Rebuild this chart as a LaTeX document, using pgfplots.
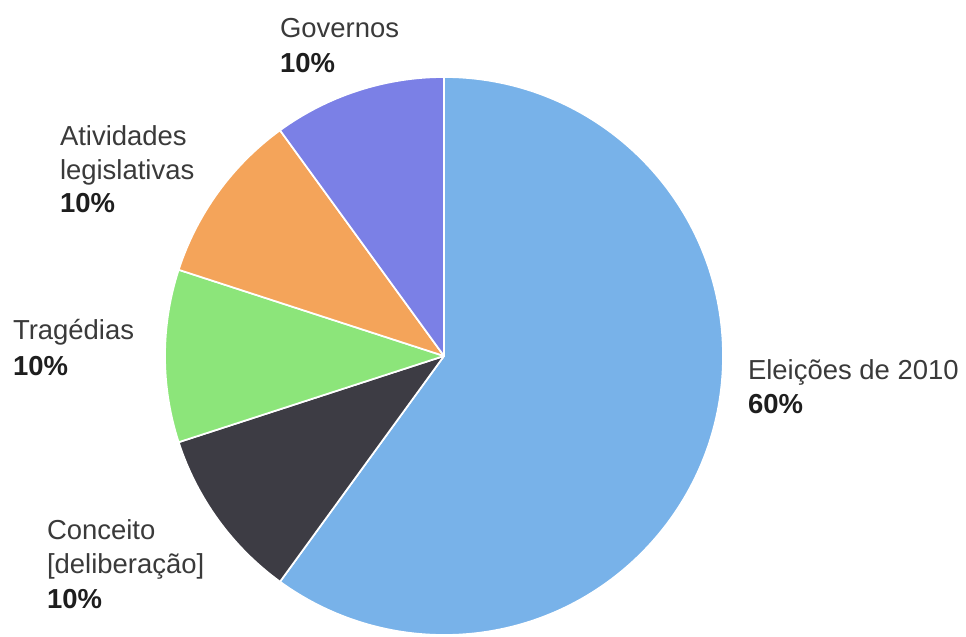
\documentclass[border=0pt]{standalone}
\usepackage{pgfplots}
\usepackage{pgfplotstable}
\pgfplotsset{compat=1.18}
\usepackage{fontspec}
\setmainfont{Liberation Sans}
\definecolor{pieblue}{HTML}{78B2E9}
\definecolor{piedark}{HTML}{3D3C44}
\definecolor{piegreen}{HTML}{8CE57A}
\definecolor{pieorange}{HTML}{F4A45A}
\definecolor{piepurple}{HTML}{7B80E6}
\definecolor{lbl}{HTML}{3A3A3A}
\definecolor{pct}{HTML}{1E1E1E}

\pgfplotstableread{
share color
60 pieblue
10 piedark
10 piegreen
10 pieorange
10 piepurple
}\piedata

\begin{document}
\begin{tikzpicture}[lab/.style={inner sep=0pt,outer sep=0pt,anchor=base west,text=lbl,font=\fontsize{20.6pt}{26pt}\selectfont},
  pc/.style={lab,text=pct,font=\fontsize{20.6pt}{26pt}\selectfont\bfseries}]
\begin{axis}[x=0.75pt,y=0.75pt,xmin=0,xmax=966,ymin=0,ymax=636,
  hide axis,clip=false]
\def\cumangle{90}
\pgfplotsforeachungrouped \i in {0,...,4}{%
  \pgfplotstablegetelem{\i}{share}\of\piedata \let\val\pgfplotsretval
  \pgfplotstablegetelem{\i}{color}\of\piedata \let\col\pgfplotsretval
  \pgfmathsetmacro\endangle{\cumangle-3.6*\val}%
  \edef\temp{\noexpand\filldraw[fill=\col,draw=white,line width=1.3pt,line join=round]
    (axis cs:444,280) -- ++(\cumangle:209.25pt)
    arc[start angle=\cumangle,end angle=\endangle,radius=209.25pt] -- cycle;}%
  \temp
  \let\cumangle\endangle
}
% labels
\node[lab] at (axis cs:280,598) {Governos};
\node[pc] at (axis cs:280,563) {10\%};
\node[lab] at (axis cs:60,490) {Atividades};
\node[lab] at (axis cs:60,456) {legislativas};
\node[pc] at (axis cs:60,423) {10\%};
\node[lab] at (axis cs:13,297) {Tragédias};
\node[pc] at (axis cs:13,261) {10\%};
\node[lab] at (axis cs:47,97) {Conceito};
\node[lab] at (axis cs:47,63) {[deliberação]};
\node[pc] at (axis cs:47,28) {10\%};
\node[lab] at (axis cs:748,257) {Eleições de 2010};
\node[pc] at (axis cs:748,223) {60\%};
\end{axis}
\pgfresetboundingbox
\useasboundingbox (0,0) rectangle (724.5pt,477pt);
\end{tikzpicture}
\end{document}
